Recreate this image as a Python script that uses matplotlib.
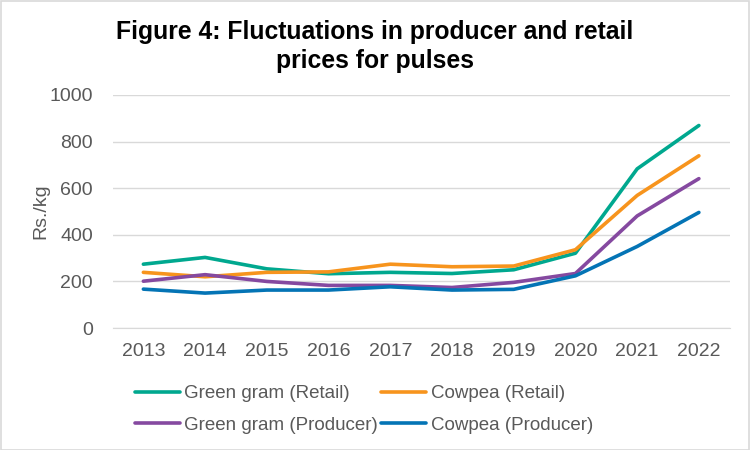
import matplotlib.pyplot as plt
from matplotlib.patches import Rectangle

plt.rcParams['font.family'] = ['Liberation Sans', 'DejaVu Sans']

years = ['2013', '2014', '2015', '2016', '2017', '2018', '2019', '2020', '2021', '2022']
green_gram_retail = [274, 303, 254, 233, 239, 234, 250, 321, 683, 869]
cowpea_retail = [239, 220, 239, 241, 274, 263, 266, 336, 569, 739]
green_gram_producer = [201, 229, 200, 183, 183, 174, 196, 234, 481, 641]
cowpea_producer = [167, 150, 163, 163, 177, 163, 166, 224, 350, 496]

series = [
    ('Green gram (Retail)', green_gram_retail, '#00A88F'),
    ('Cowpea (Retail)', cowpea_retail, '#F7941D'),
    ('Green gram (Producer)', green_gram_producer, '#8549A0'),
    ('Cowpea (Producer)', cowpea_producer, '#0474B5'),
]

fig = plt.figure(figsize=(7.5, 4.5), dpi=100)
ax = fig.add_axes([0.15, 0.271, 0.823, 0.518])

x = list(range(len(years)))
lines = []
for name, vals, col in series:
    ln, = ax.plot(x, vals, color=col, lw=2.6, label=name, solid_capstyle='round')
    lines.append(ln)

ax.set_xlim(-0.5, len(years) - 0.5)
ax.set_ylim(0, 1000)
ax.set_yticks(range(0, 1001, 200))
ax.set_xticks(x)
ax.set_xticklabels(years)
ax.grid(axis='y', color='#D9D9D9', lw=1)
ax.set_axisbelow(True)
for s in ax.spines.values():
    s.set_visible(False)
ax.spines['bottom'].set_visible(True)
ax.spines['bottom'].set_color('#D9D9D9')
ax.tick_params(length=0, labelsize=14, colors='#595959', pad=11)
ax.tick_params(axis='y', pad=14)
ax.set_ylabel('Rs./kg', fontsize=14, color='#595959', labelpad=0)

fig.text(0.5, 0.897, 'Figure 4: Fluctuations in producer and retail\nprices for pulses',
         ha='center', va='center', fontsize=17.8, fontweight='bold', linespacing=1.25)

# legend fills column-wise, so reorder to get row-wise layout
order = [0, 2, 1, 3]
leg = fig.legend([lines[i] for i in order], [series[i][0] for i in order],
                 loc='center', bbox_to_anchor=(0.485, 0.09), ncol=2, frameon=False,
                 fontsize=13.5, handlelength=2.4, handletextpad=0.25, columnspacing=0.15,
                 labelspacing=0.75)
for t in leg.get_texts():
    t.set_color('#595959')

fig.patches.append(Rectangle((0.001, 0.001), 0.997, 0.997, transform=fig.transFigure,
                             fill=False, edgecolor='#D9D9D9', lw=1.2))

fig.savefig('out.png', dpi=100)
